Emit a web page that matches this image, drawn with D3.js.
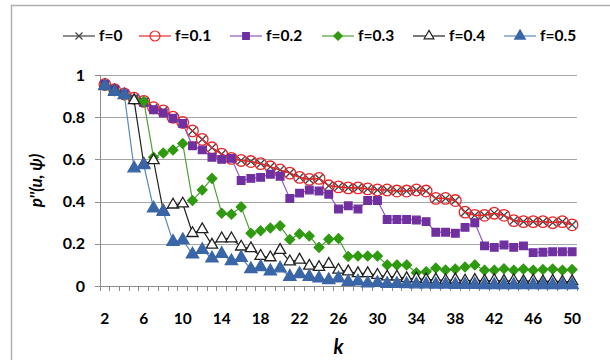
<!DOCTYPE html>
<html>
<head>
<meta charset="utf-8">
<script src="https://cdn.jsdelivr.net/npm/d3@7/dist/d3.min.js"></script>
<style>
  body { margin: 0; background: #fff; }
  text { font-family: Lato, "Open Sans", sans-serif; font-weight: bold; fill: #000; }
</style>
</head>
<body>
<div id="chart"></div>
<script>
// x categories k = 2..50
var ks = d3.range(2, 51);
var yTicks = [0, 0.2, 0.4, 0.6, 0.8, 1];
var xTickLabels = [2, 6, 10, 14, 18, 22, 26, 30, 34, 38, 42, 46, 50];
var seriesNames = ["f=0", "f=0.1", "f=0.2", "f=0.3", "f=0.4", "f=0.5"];

var f0 = [0.955, 0.93, 0.91, 0.89, 0.875, 0.845, 0.83, 0.80, 0.775, 0.735,
  0.695, 0.655, 0.625, 0.605, 0.595, 0.59, 0.58, 0.565, 0.55, 0.535,
  0.515, 0.505, 0.51, 0.475, 0.47, 0.465, 0.465, 0.46, 0.455, 0.455,
  0.45, 0.45, 0.455, 0.45, 0.415, 0.415, 0.405, 0.35, 0.335, 0.335,
  0.345, 0.335, 0.31, 0.305, 0.305, 0.305, 0.30, 0.305, 0.29];
var f01 = [0.955, 0.93, 0.91, 0.89, 0.875, 0.845, 0.83, 0.80, 0.775, 0.735,
  0.695, 0.655, 0.625, 0.605, 0.595, 0.59, 0.58, 0.565, 0.55, 0.535,
  0.515, 0.505, 0.51, 0.475, 0.47, 0.465, 0.465, 0.46, 0.455, 0.455,
  0.45, 0.45, 0.455, 0.45, 0.415, 0.415, 0.405, 0.35, 0.335, 0.335,
  0.345, 0.335, 0.31, 0.305, 0.305, 0.305, 0.30, 0.305, 0.29];
var f02 = [0.955, 0.93, 0.91, 0.885, 0.87, 0.835, 0.82, 0.795, 0.77, 0.665,
  0.645, 0.61, 0.60, 0.605, 0.50, 0.51, 0.515, 0.53, 0.52, 0.415,
  0.44, 0.455, 0.45, 0.435, 0.365, 0.38, 0.365, 0.405, 0.405, 0.315,
  0.315, 0.315, 0.313, 0.305, 0.255, 0.255, 0.25, 0.278, 0.30, 0.19,
  0.183, 0.194, 0.183, 0.19, 0.158, 0.16, 0.162, 0.162, 0.162];
var f03 = [0.95, 0.925, 0.905, 0.885, 0.875, 0.61, 0.63, 0.645, 0.675, 0.405,
  0.455, 0.51, 0.345, 0.34, 0.375, 0.25, 0.262, 0.275, 0.285, 0.22,
  0.247, 0.237, 0.183, 0.222, 0.225, 0.14, 0.142, 0.142, 0.142, 0.10,
  0.10, 0.10, 0.063, 0.068, 0.085, 0.076, 0.08, 0.09, 0.10, 0.075,
  0.075, 0.082, 0.075, 0.08, 0.075, 0.078, 0.08, 0.075, 0.078];
var f04 = [0.95, 0.925, 0.905, 0.88, 0.578, 0.595, 0.355, 0.385, 0.39, 0.25,
  0.268, 0.195, 0.225, 0.225, 0.186, 0.178, 0.142, 0.135, 0.17, 0.116,
  0.124, 0.095, 0.089, 0.104, 0.076, 0.068, 0.06, 0.06, 0.052, 0.044,
  0.044, 0.036, 0.035, 0.03, 0.03, 0.026, 0.03, 0.025, 0.028, 0.024,
  0.027, 0.023, 0.026, 0.022, 0.025, 0.021, 0.024, 0.02, 0.022];
var f05 = [0.948, 0.92, 0.905, 0.558, 0.573, 0.368, 0.352, 0.21, 0.218, 0.15,
  0.171, 0.131, 0.152, 0.118, 0.134, 0.08, 0.09, 0.07, 0.084, 0.044,
  0.057, 0.044, 0.036, 0.028, 0.036, 0.02, 0.022, 0.013, 0.015, 0.01,
  0.01, 0.009, 0.008, 0.008, 0.007, 0.007, 0.006, 0.006, 0.006, 0.005,
  0.005, 0.005, 0.005, 0.005, 0.005, 0.005, 0.005, 0.005, 0.005];

var allSeries = [f0, f01, f02, f03, f04, f05];
var styles = [
  { line: "#404040", symbol: d3.symbolTimes, size: 45, fill: "none", stroke: "#404040" },
  { line: "#e8272a", symbol: d3.symbolCircle, size: 105, fill: "none", stroke: "#e8272a" },
  { line: "#8f5cc2", symbol: d3.symbolSquare, size: 58, fill: "#7030a0", stroke: "#7030a0" },
  { line: "#4fa13a", symbol: d3.symbolDiamond2, size: 60, fill: "#2f9a10", stroke: "#2f9a10" },
  { line: "#202020", symbol: d3.symbolTriangle, size: 55, fill: "#fff", stroke: "#202020" },
  { line: "#5b86c0", symbol: d3.symbolTriangle, size: 65, fill: "#3a66a8", stroke: "#3a66a8" }
];

var W = 610, H = 360;
var margin = { top: 75, right: 33, bottom: 74, left: 100 };
var width = W - margin.left - margin.right,
  height = H - margin.top - margin.bottom;

var svg = d3.select("#chart")
  .append("svg")
  .attr("width", W)
  .attr("height", H);

// outer frame
svg.append("rect")
  .attr("x", 11.5)
  .attr("y", 5.5)
  .attr("width", W)
  .attr("height", H)
  .attr("fill", "none")
  .attr("stroke", "#b0b0b0")
  .attr("stroke-width", 1.5);

var g = svg.append("g")
  .attr("transform", "translate(" + margin.left + "," + margin.top + ")");

var x = d3.scaleBand()
  .domain(ks)
  .range([0, width])
  .padding(0);

var y = d3.scaleLinear()
  .domain([0, 1])
  .range([height, 0]);

function cx(k) { return x(k) + x.bandwidth() / 2; }

// grid
g.append("g")
  .attr("class", "grid")
  .call(d3.axisLeft(y).tickValues(yTicks).tickSize(-width).tickFormat(""))
  .call(function (s) {
    s.select(".domain").remove();
    s.selectAll("line").attr("stroke", "#a6a6a6").attr("shape-rendering", "crispEdges");
  });

// y axis
g.append("g")
  .attr("class", "y axis")
  .call(d3.axisLeft(y).tickValues(yTicks).tickSize(5).tickPadding(10).tickFormat(d3.format("")))
  .call(function (s) {
    s.select(".domain").attr("stroke", "#8c8c8c").attr("shape-rendering", "crispEdges");
    s.selectAll("line").attr("stroke", "#8c8c8c").attr("shape-rendering", "crispEdges");
    s.selectAll("text").style("font-size", "16px");
  });

// x axis
var xAxis = g.append("g")
  .attr("class", "x axis")
  .attr("transform", "translate(0," + height + ")");

xAxis.append("line")
  .attr("x1", 0).attr("x2", width)
  .attr("stroke", "#8c8c8c")
  .attr("shape-rendering", "crispEdges");

xAxis.selectAll("line.tick")
  .data(ks.concat([null]))
  .enter().append("line")
  .attr("class", "tick")
  .attr("x1", function (d) { return d === null ? width : x(d); })
  .attr("x2", function (d) { return d === null ? width : x(d); })
  .attr("y1", 0).attr("y2", 5)
  .attr("stroke", "#8c8c8c")
  .attr("shape-rendering", "crispEdges");

xAxis.selectAll("text")
  .data(xTickLabels)
  .enter().append("text")
  .attr("x", function (d) { return cx(d); })
  .attr("y", 38)
  .style("text-anchor", "middle")
  .style("font-size", "15.5px")
  .text(function (d) { return d; });

// axis titles
svg.append("text")
  .attr("x", margin.left + width / 2)
  .attr("y", 354)
  .style("text-anchor", "middle")
  .style("font-size", "20px")
  .style("font-style", "italic")
  .text("k");

svg.append("text")
  .attr("transform", "translate(42," + (margin.top + height / 2) + ") rotate(-90)")
  .style("text-anchor", "middle")
  .style("font-size", "17px")
  .style("font-style", "italic")
  .text("p''(u, \u03c8)");

// series
var line = d3.line()
  .x(function (d, i) { return cx(ks[i]); })
  .y(function (d) { return y(d); });

allSeries.forEach(function (data, j) {
  var st = styles[j];
  var sg = g.append("g").attr("class", "series");
  sg.append("path")
    .datum(data)
    .attr("d", line)
    .attr("fill", "none")
    .attr("stroke", st.line)
    .attr("stroke-width", 1.2);
  sg.selectAll("path.mark")
    .data(data)
    .enter().append("path")
    .attr("class", "mark")
    .attr("transform", function (d, i) {
      return "translate(" + cx(ks[i]) + "," + y(d) + ")";
    })
    .attr("d", d3.symbol().type(st.symbol).size(st.size))
    .attr("fill", st.fill)
    .attr("stroke", st.stroke)
    .attr("stroke-width", 1.3);
});

// legend
var legendX = [63, 139, 230, 322, 413, 504];
var legend = svg.selectAll(".legend")
  .data(seriesNames)
  .enter().append("g")
  .attr("class", "legend")
  .attr("transform", function (d, i) { return "translate(" + legendX[i] + ",36)"; });

legend.append("line")
  .attr("x1", 0).attr("x2", 32)
  .attr("stroke", function (d, i) { return styles[i].line; })
  .attr("stroke-width", 1.2);

legend.append("path")
  .attr("transform", "translate(16,0)")
  .attr("d", function (d, i) { return d3.symbol().type(styles[i].symbol).size(styles[i].size * 0.75)(); })
  .attr("fill", function (d, i) { return styles[i].fill; })
  .attr("stroke", function (d, i) { return styles[i].stroke; })
  .attr("stroke-width", 1.2);

legend.append("text")
  .attr("x", 36)
  .attr("dy", "0.35em")
  .style("font-size", "15.5px")
  .text(function (d) { return d; });
</script>
</body>
</html>
